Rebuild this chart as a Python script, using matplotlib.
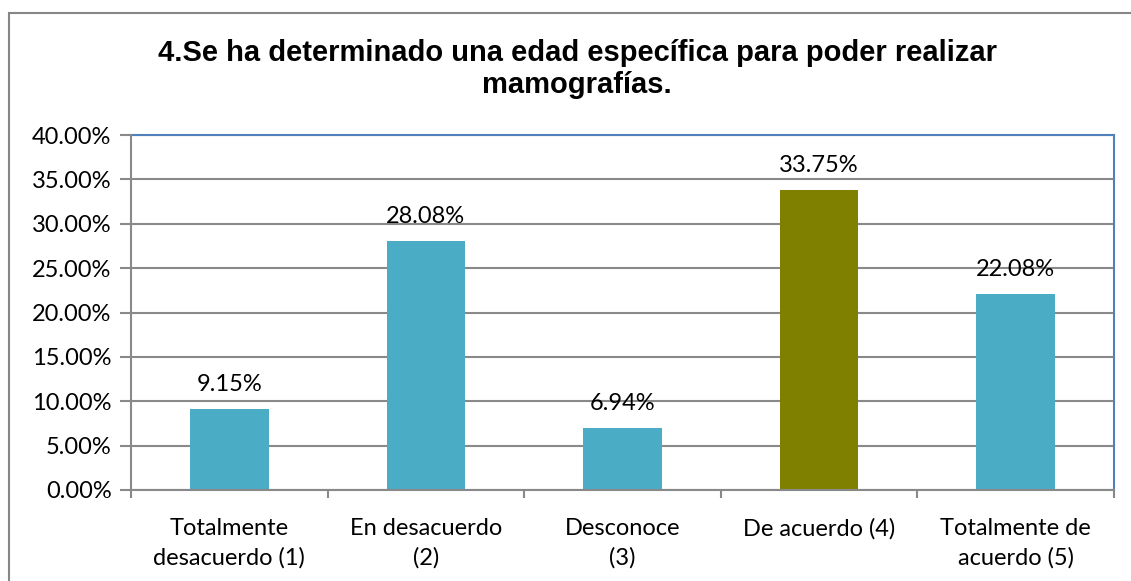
import matplotlib.pyplot as plt
from matplotlib.patches import Rectangle

# Datos del grafico
categorias = ["Totalmente\ndesacuerdo (1)", "En desacuerdo\n(2)", "Desconoce\n(3)",
              "De acuerdo (4)", "Totalmente de\nacuerdo (5)"]
valores = [9.15, 28.08, 6.94, 33.75, 22.08]
colores = ["#4BACC6", "#4BACC6", "#4BACC6", "#808000", "#4BACC6"]
yticks = [0, 5, 10, 15, 20, 25, 30, 35, 40]

W, H = 1131, 581
fig = plt.figure(figsize=(W / 100, H / 100), dpi=100)

# marco exterior del grafico
fig.patches.append(Rectangle((9 / W, -0.1), 1.2, 1 - 13 / H + 0.1,
                             transform=fig.transFigure, fill=False,
                             edgecolor="#868686", linewidth=1.5))

ax = fig.add_axes([131 / W, 1 - 490 / H, (1114 - 131) / W, (490 - 135) / H])

x = range(len(valores))
ax.bar(x, valores, width=0.40, color=colores, zorder=3)

for i, v in enumerate(valores):
    ax.text(i, v + 1.6, f"{v:.2f}%", ha="center", va="bottom",
            fontsize=17, family="Lato", zorder=4)

ax.set_xlim(-0.5, len(valores) - 0.5)
ax.set_ylim(0, 40)
ax.set_yticks(yticks)
ax.set_yticklabels([f"{t:.2f}%" for t in yticks], fontsize=17, family="Lato")
ax.yaxis.grid(True, color="#898989", linewidth=1.5, zorder=0)

ax.set_xticks([i + 0.5 for i in range(-1, len(valores))], minor=False)
ax.set_xticklabels([])
ax.set_xticks(list(x), minor=True)
ax.set_xticklabels(categorias, minor=True, fontsize=17, family="Lato",
                   linespacing=1.45)
ax.tick_params(axis="x", which="minor", length=0, pad=20)
ax.tick_params(axis="x", which="major", length=6, width=1.5, color="#898989")
ax.tick_params(axis="y", length=8, width=1.5, color="#898989", pad=6)

for s in ["left", "bottom"]:
    ax.spines[s].set_color("#898989")
    ax.spines[s].set_linewidth(1.5)
for s in ["top", "right"]:
    ax.spines[s].set_color("#4F81BD")
    ax.spines[s].set_linewidth(1.5)
ax.spines["left"].set_zorder(5)
ax.spines["bottom"].set_zorder(5)

fig.text(577 / W, 1 - 69 / H,
         "4.Se ha determinado una edad específica para poder realizar\nmamografías.",
         ha="center", va="center", fontsize=21, fontweight="bold",
         family="Liberation Sans", linespacing=1.2)

fig.savefig("out.png", dpi=100)
